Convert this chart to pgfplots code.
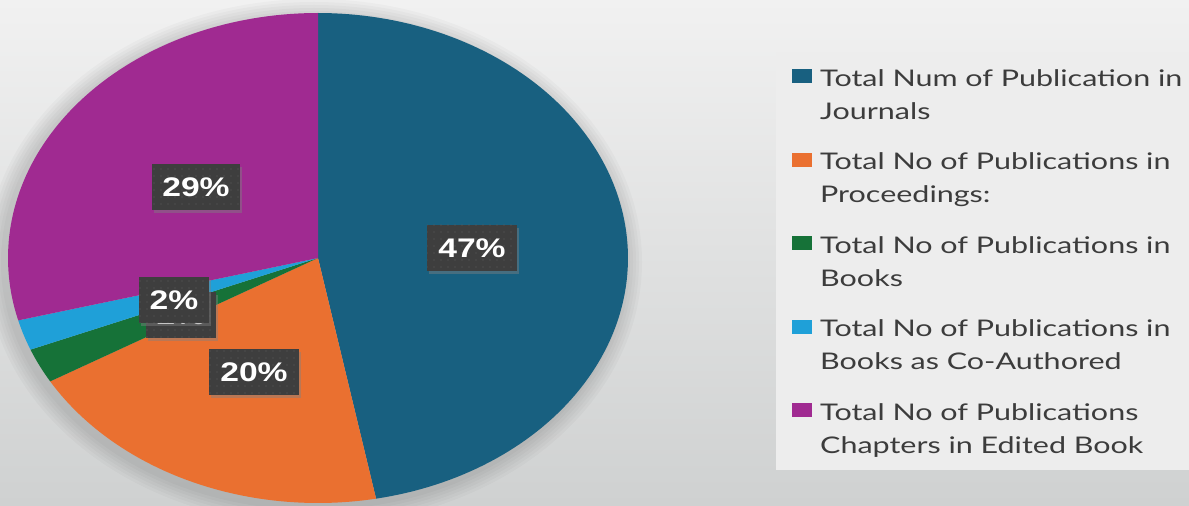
\documentclass[border=0pt]{standalone}
\usepackage{pgfplots}
\pgfplotsset{compat=1.18}
\usepackage{fontspec}
\setmainfont{Lato}
\newfontfamily\labfont{Liberation Sans}
\usepackage{graphicx}
\usetikzlibrary{patterns.meta,shadows}
\definecolor{cJ}{HTML}{186080}
\definecolor{cP}{HTML}{EA7030}
\definecolor{cB}{HTML}{167238}
\definecolor{cC}{HTML}{1FA0D8}
\definecolor{cE}{HTML}{A02A91}
\definecolor{bgTop}{HTML}{F1F1F1}
\definecolor{bgMid}{HTML}{E6E7E7}
\definecolor{bgBot}{HTML}{CFD1D1}
\definecolor{legbg}{HTML}{EDEDED}
\definecolor{legtext}{HTML}{3C3C3C}
\definecolor{boxgray}{HTML}{3E3E3E}
\definecolor{dotgray}{HTML}{5E5E5E}
\newcommand\wide[1]{\scalebox{1.25}[1]{#1}}
\newcommand\lwide[1]{\scalebox{1.33}[1]{#1}}
\newcommand\legfont{\fontsize{23}{33}\selectfont}
\newcommand\ent[2]{\begin{tabular}[t]{@{}l@{}}\lwide{#1}\\\lwide{#2}\end{tabular}}
\tikzset{lbox/.style={fill=boxgray,
    drop shadow={shadow xshift=2bp,shadow yshift=-3bp,opacity=0.45},
    postaction={pattern={Dots[distance=7bp,radius=0.7bp]},pattern color=dotgray},
    text=white,font=\labfont\bfseries\fontsize{27}{30}\selectfont,inner sep=0pt}}
\begin{document}
\begin{tikzpicture}
% data: shares of publications (per cent)
\def\vJ{47}\def\vP{19.6}\def\vB{2.3}\def\vC{2.0}\def\vE{29.1}
\pgfmathsetmacro\aA{90}
\pgfmathsetmacro\aB{\aA-3.6*\vJ}
\pgfmathsetmacro\aC{\aB-3.6*\vP}
\pgfmathsetmacro\aD{\aC-3.6*\vB}
\pgfmathsetmacro\aE{\aD-3.6*\vC}
\pgfmathsetmacro\aF{\aE-3.6*\vE}
\begin{axis}[width=1189bp,height=505bp,scale only axis,
  xmin=0,xmax=1189,ymin=0,ymax=505,hide axis,clip=true,
  legend style={at={(axis cs:792,442)},anchor=north west,draw=none,fill=none,
    inner sep=0pt,row sep=59bp,column sep=8bp,
    cells={anchor=base west},nodes={inner sep=0pt,text=legtext,font=\legfont}},
  legend image code/.code={\fill[#1] (0bp,3bp) rectangle (20bp,17bp);},
]
\shade[top color=bgTop,middle color=bgMid,bottom color=bgBot] (axis cs:0,0) rectangle (axis cs:1189,505);
\fill[legbg] (axis cs:776,35) rectangle (axis cs:1189,453);
\fill[black,opacity=0.025] (axis cs:314,243) ellipse [x radius=313bp, y radius=248bp];
\fill[black,opacity=0.025] (axis cs:314,243) ellipse [x radius=316bp, y radius=251bp];
\fill[black,opacity=0.025] (axis cs:314,243) ellipse [x radius=319bp, y radius=254bp];
\fill[black,opacity=0.025] (axis cs:314,243) ellipse [x radius=322bp, y radius=257bp];
\fill[black,opacity=0.025] (axis cs:314,243) ellipse [x radius=325bp, y radius=260bp];
\fill[black,opacity=0.025] (axis cs:314,243) ellipse [x radius=328bp, y radius=263bp];
\addplot[fill=cJ,draw=none,domain=\aB:\aA,samples=120] ({318+310*cos(x)},{247+245*sin(x)}) -- (axis cs:318,247) -- cycle;
\addlegendentry{\ent{Total Num of Publication in}{Journals}}
\addplot[fill=cP,draw=none,domain=\aC:\aB,samples=60] ({318+310*cos(x)},{247+245*sin(x)}) -- (axis cs:318,247) -- cycle;
\addlegendentry{\ent{Total No of Publications in}{Proceedings:}}
\addplot[fill=cB,draw=none,domain=\aD:\aC,samples=10] ({318+310*cos(x)},{247+245*sin(x)}) -- (axis cs:318,247) -- cycle;
\addlegendentry{\ent{Total No of Publications in}{Books}}
\addplot[fill=cC,draw=none,domain=\aE:\aD,samples=10] ({318+310*cos(x)},{247+245*sin(x)}) -- (axis cs:318,247) -- cycle;
\addlegendentry{\ent{Total No of Publications in}{Books as Co-Authored}}
\addplot[fill=cE,draw=none,domain=\aF:\aE,samples=80] ({318+310*cos(x)},{247+245*sin(x)}) -- (axis cs:318,247) -- cycle;
\addlegendentry{\ent{Total No of Publications}{Chapters in Edited Book}}
\node[lbox,minimum width=90bp,minimum height=46bp] at (axis cs:472,257) {\wide{47\%}};
\node[lbox,minimum width=88bp,minimum height=46bp] at (axis cs:196,318) {\wide{29\%}};
\node[lbox,minimum width=90bp,minimum height=46bp] at (axis cs:254,133) {\wide{20\%}};
\node[lbox,minimum width=70bp,minimum height=46bp] at (axis cs:181,190) {\wide{2\%}};
\node[lbox,minimum width=70bp,minimum height=46bp] at (axis cs:174,205) {\wide{2\%}};
\end{axis}
\pgfresetboundingbox
\path (current axis.south west) rectangle (current axis.north east);
\end{tikzpicture}
\end{document}
